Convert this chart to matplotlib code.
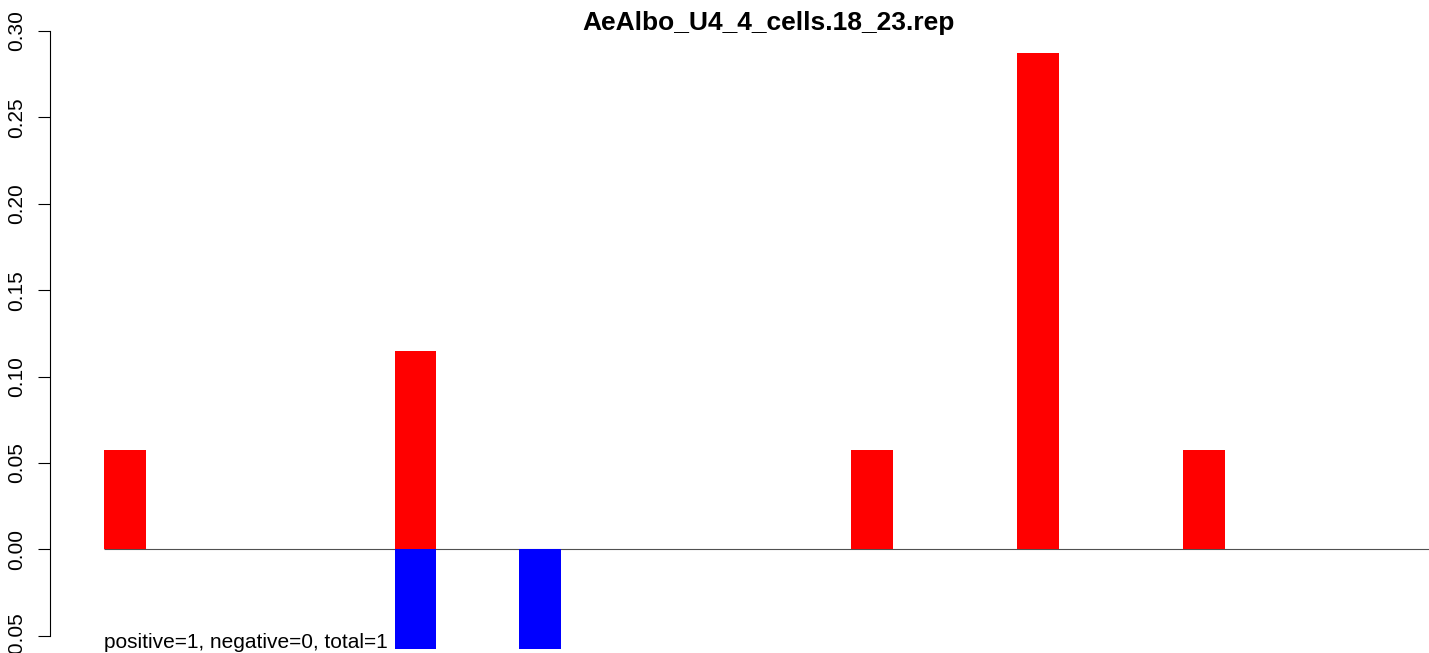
import numpy as np
import matplotlib
matplotlib.use("Agg")
import matplotlib.pyplot as plt

plt.rcParams["font.family"] = ["Liberation Sans", "DejaVu Sans"]

# Data
n_slots = 32
red_slots = [0, 7, 18, 22, 26]
red_values = [0.0575, 0.115, 0.0575, 0.2875, 0.0575]
blue_slots = [7, 10]
blue_values = [-0.0575, -0.0575]
y_ticks = [-0.05, 0.00, 0.05, 0.10, 0.15, 0.20, 0.25, 0.30]
title = "AeAlbo_U4_4_cells.18_23.rep"
note = "positive=1, negative=0, total=1"

W, H = 1429, 653
fig = plt.figure(figsize=(W / 100, H / 100), dpi=100)

# axes placed in pixel terms to match the R layout
ax_top_px = 20
ax = fig.add_axes([50 / W, 0, 1 - 50 / W, (H - ax_top_px) / H])

px_per_unit_y = 1727.7
zero_px = 549.3
ax.set_ylim((zero_px - H) / px_per_unit_y, (zero_px - ax_top_px) / px_per_unit_y)
px_per_slot = 41.5
ax.set_xlim((50 - 104) / px_per_slot, (W - 104) / px_per_slot)

ax.hlines(0, 0, n_slots, color="#505050", lw=0.8, zorder=1)
ax.bar(red_slots, red_values, width=1, align="edge", color="#ff0000", zorder=2)
ax.bar(blue_slots, blue_values, width=1, align="edge", color="#0000ff", zorder=2)

for s in ["top", "right", "bottom"]:
    ax.spines[s].set_visible(False)
ax.spines["left"].set_bounds(-0.05, 0.30)
ax.spines["left"].set_linewidth(0.8)
ax.set_xticks([])
ax.set_yticks(y_ticks)
ax.set_yticklabels([f"{v:.2f}" for v in y_ticks])
ax.tick_params(axis="y", length=9, width=0.8, pad=8, labelsize=15, labelrotation=90)
for lab in ax.get_yticklabels():
    lab.set_verticalalignment("center")

ax.text(0, (zero_px - 648) / px_per_unit_y, note, fontsize=15, ha="left", va="baseline")
fig.text(768.5 / W, (H - 30) / H, title, fontsize=19, fontweight="bold",
         ha="center", va="baseline")

fig.savefig("out.png", dpi=100)
